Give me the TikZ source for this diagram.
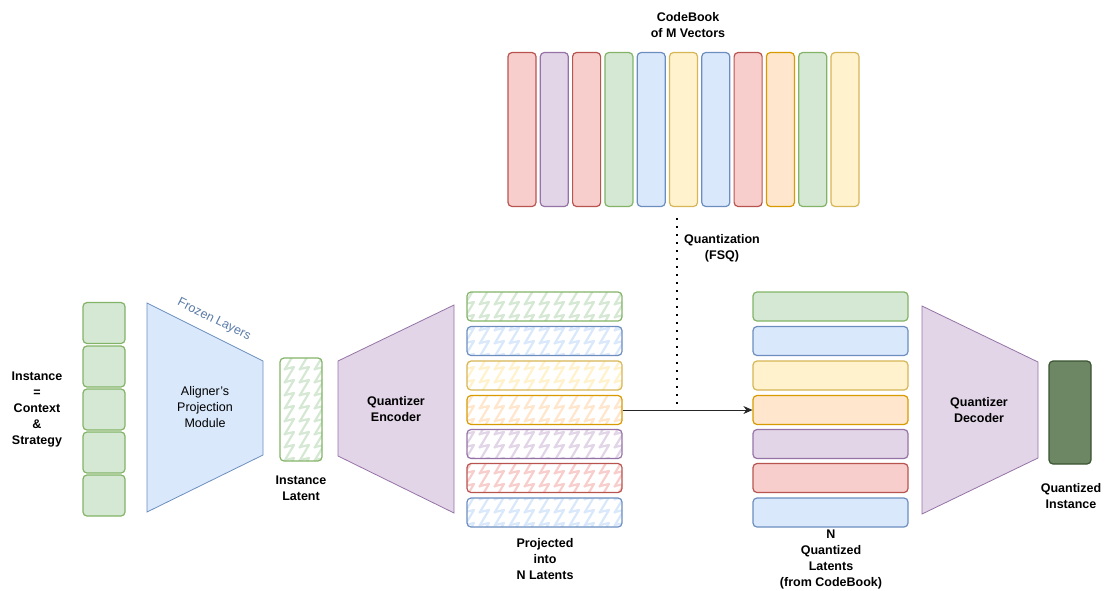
\documentclass[tikz,border=0pt]{standalone}
\usepackage{fontspec}
\setmainfont{Liberation Sans}
\usepackage{xcolor}
\usetikzlibrary{arrows.meta,positioning,patterns.meta}
\definecolor{grnfill}{HTML}{D5E8D4}
\definecolor{grnline}{HTML}{82B366}
\definecolor{blufill}{HTML}{DAE8FC}
\definecolor{bluline}{HTML}{6C8EBF}
\definecolor{ylwfill}{HTML}{FFF2CC}
\definecolor{ylwline}{HTML}{D6B656}
\definecolor{orgfill}{HTML}{FFE6CC}
\definecolor{orgline}{HTML}{D79B00}
\definecolor{purfill}{HTML}{E1D5E7}
\definecolor{purline}{HTML}{9673A6}
\definecolor{redfill}{HTML}{F8CECC}
\definecolor{redline}{HTML}{B85450}
\definecolor{darkfill}{HTML}{6D8764}
\definecolor{darkline}{HTML}{3A5431}
\definecolor{frozentext}{HTML}{5A7BA8}

\tikzdeclarepattern{
  name=zigzagfill,
  type=uncolored,
  bounding box={(-2pt,-2pt) and (12pt,17pt)},
  tile size={(15pt,13pt)},
  code={
    \draw[line width=2.2pt, line join=round] (-1pt,-1pt) -- (0pt,0pt) -- (9pt,15pt) -- (0pt,13pt);
  }
}

\begin{document}
\begin{tikzpicture}[x=1pt, y=-1pt,
  lbl/.style={font=\bfseries\fontsize{12.5}{16}\selectfont, align=center},
  cell/.style={draw=#1line, fill=#1fill, line width=1.2pt, rounded corners=4pt, inner sep=0pt},
  hatched/.style={draw=#1line, pattern=zigzagfill, pattern color=#1fill, line width=1.2pt,
                  rounded corners=4pt, inner sep=0pt},
  trap/.style={draw=#1line, fill=#1fill, line width=0.8pt}
]
\useasboundingbox (0,0) rectangle (1105,590);

% input instance
\foreach \i/\yy in {0/323,1/366.5,2/409.5,3/452.5,4/495.5}
  \node[cell=grn, minimum width=42pt, minimum height=41pt] (in\i) at (104,\yy) {};
\node[lbl] (instlbl) at (37,410) {Instance\\=\\Context\\\&\\Strategy};

% aligner
\draw[trap=blu] (147,303) -- (263,361) -- (263,455) -- (147,512) -- cycle;
\node[font=\fontsize{12.5}{16}\selectfont, align=center] (aligner) at (205,407) {Aligner's\\Projection\\Module};
\node[text=frozentext, rotate=-26.6, font=\fontsize{12.5}{14}\selectfont] (frozen) at (214,320) {Frozen Layers};

% instance latent
\node[hatched=grn, minimum width=42pt, minimum height=103pt] (latent) at (301,409.5) {};
\node[lbl] (latentlbl) at (301,488) {Instance\\Latent};

% encoder
\draw[trap=pur] (338,361) -- (454,305) -- (454,513) -- (338,456) -- cycle;
\node[lbl] (enc) at (396,409) {Quantizer\\Encoder};

% projected and quantized latents
\foreach \i/\c/\yy in {0/grn/306.5,1/blu/341,2/ylw/375.5,3/org/410,4/pur/444,5/red/478,6/blu/512.5}{
  \node[hatched=\c, minimum width=155pt, minimum height=29pt] (proj\i) at (544.5,\yy) {};
  \node[cell=\c, minimum width=155pt, minimum height=29pt] (qz\i) at (830.5,\yy) {};
}
\node[lbl] (projlbl) at (545,559) {Projected\\into\\N Latents};
\node[lbl] (qzlbl) at (831,559) {N\\Quantized\\Latents\\(from CodeBook)};

% codebook
\foreach \i/\c in {0/red,1/pur,2/red,3/grn,4/blu,5/ylw,6/blu,7/red,8/org,9/grn,10/ylw}
  \node[cell=\c, minimum width=28pt, minimum height=154pt] (cb\i) at ({522+32.3*\i},129.5) {};
\node[lbl] (cblbl) at (688,25) {CodeBook\\of M Vectors};

% quantization
\coordinate (qtop) at (677,218);
\draw[line width=2pt, dash pattern=on 2pt off 6pt] (qtop) -- (qtop |- proj3.east);
\node[lbl] (fsq) at (722,248) {Quantization\\(FSQ)};
\draw[-{Stealth[length=9pt,width=8pt]}, line width=0.8pt, black!85] (proj3.east) -- (qz3.west);

% decoder
\draw[trap=pur] (922,306) -- (1038,362) -- (1038,458) -- (922,514) -- cycle;
\node[lbl] (dec) at (979,410) {Quantizer\\Decoder};
\node[draw=darkline, fill=darkfill, line width=1.2pt, rounded corners=4pt,
      minimum width=42pt, minimum height=103pt] (qinst) at (1070,412.5) {};
\node[lbl] (qinstlbl) at (1071,496) {Quantized\\Instance};
\end{tikzpicture}
\end{document}
